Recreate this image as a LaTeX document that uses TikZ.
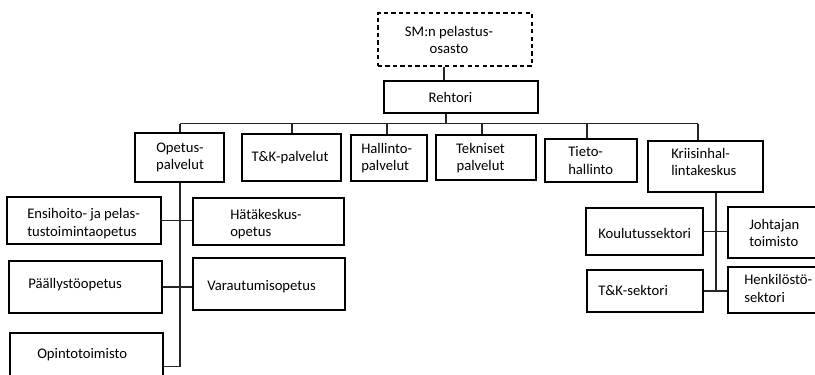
\documentclass[tikz,border=0pt]{standalone}
\usepackage{fontspec}
\setmainfont{Carlito}
\begin{document}
\begin{tikzpicture}[x=0.75pt,y=-0.75pt,
  box/.style 2 args={draw=black, line width=1pt, inner sep=0pt,
    minimum width=#1*0.75pt, minimum height=#2*0.75pt},
  dbox/.style 2 args={box={#1}{#2}, dashed, dash pattern=on 3.2pt off 2.4pt},
  lbl/.style={inner sep=0pt, font=\fontsize{11}{13.3}\selectfont, text=black},
  ltext/.style={lbl, anchor=west, align=left},
  ctext/.style={lbl, anchor=center, align=center},
  link/.style={draw=black!85, line width=0.8pt}]
\useasboundingbox (0,0) rectangle (815,375);
\clip (0,0) rectangle (815,375);

% top level
\node[dbox={154}{53}] (sm) at (455,39.5) {};
\node[ctext] (t-sm) at (449,40) {SM:n pelastus-\\osasto};
\node[box={154}{32}] (rehtori) at (461,97) {};
\node[ctext] (t-rehtori) at (450.5,97) {Rehtori};

% units under the principal
\node[box={89}{49}] (opetus) at (179.5,157.5) {};
\node[ctext] (t-opetus) at (180,157.5) {Opetus-\\palvelut};
\node[box={99}{47}] (tkp) at (291.5,157.5) {};
\node[ctext] (t-tkp) at (290,157.5) {T\&K-palvelut};
\node[box={76}{46}] (hallinto) at (389,158) {};
\node[ltext] (t-hallinto) at (361,158) {Hallinto-\\palvelut};
\node[box={100}{45}] (tekniset) at (486,157.5) {};
\node[ctext] (t-tekniset) at (480.5,158) {Tekniset\\palvelut};
\node[box={92}{43}] (tieto) at (591,160.5) {};
\node[ltext] (t-tieto) at (568,160.5) {Tieto-\\hallinto};
\node[box={115}{51}] (kriisi) at (705.5,166.5) {};
\node[ltext] (t-kriisi) at (671,162) {Kriisinhal-\\lintakeskus};

% teaching services
\node[box={154}{47}] (ensihoito) at (84,220.5) {};
\node[ltext] (t-ensihoito) at (27,223.5) {Ensihoito- ja pelas-\\tustoimintaopetus};
\node[box={151}{47}] (hatake) at (268.5,221.5) {};
\node[ltext] (t-hatake) at (230,224) {Hätäkeskus-\\opetus};
\node[box={153}{52}] (paall) at (85.5,287) {};
\node[ltext] (t-paall) at (28,285) {Päällystöopetus};
\node[box={152}{52}] (varaut) at (269,284) {};
\node[ltext] (t-varaut) at (207,287) {Varautumisopetus};
\node[box={153}{67}] (opinto) at (86.5,366.5) {};
\node[ltext] (t-opinto) at (37,355) {Opintotoimisto};

% crisis management centre
\node[box={117}{47}] (koulutus) at (644.5,231.5) {};
\node[ltext] (t-koulutus) at (598,233) {Koulutussektori};
\node[box={102}{51}] (johtajan) at (779,232.5) {};
\node[ltext] (t-johtajan) at (749,233) {Johtajan\\toimisto};
\node[box={116}{42}] (tksektori) at (645,291) {};
\node[ltext] (t-tksektori) at (598,290) {T\&K-sektori};
\node[box={102}{46}] (henkilo) at (779,290) {};
\node[ltext] (t-henkilo) at (744,288.5) {Henkilöstö-\\sektori};

% bus positions
\coordinate (b-main) at (446,123.5);
\coordinate (b-opetus) at (180,123.5);
\coordinate (b-tkp) at (292,123.5);
\coordinate (b-hallinto) at (387,123.5);
\coordinate (b-tekniset) at (482,123.5);
\coordinate (b-tieto) at (587,123.5);
\coordinate (b-kriisi) at (698,123.5);
\coordinate (sm-x) at (444,0);
\coordinate (k-spine) at (716,0);

% connectors
\draw[link] (sm.south -| sm-x) -- (rehtori.north -| sm-x);
\draw[link] (rehtori.south -| b-main) -- (b-main);
\draw[link] (b-opetus) -- (b-kriisi);
\foreach \n in {opetus,tkp,hallinto,tekniset,tieto,kriisi}
  \draw[link] (b-\n) -- (\n.north -| b-\n);

\draw[link] (opetus.south -| b-opetus) -- (b-opetus |- opinto.east) -- (opinto.east);
\draw[link] (ensihoito.east) -- (ensihoito.east -| hatake.west);
\draw[link] (paall.east) -- (paall.east -| varaut.west);

\draw[link] (kriisi.south -| k-spine) -- (k-spine |- tksektori.east);
\draw[link] (koulutus.east) -- (koulutus.east -| johtajan.west);
\draw[link] (tksektori.east) -- (tksektori.east -| henkilo.west);
\end{tikzpicture}
\end{document}
